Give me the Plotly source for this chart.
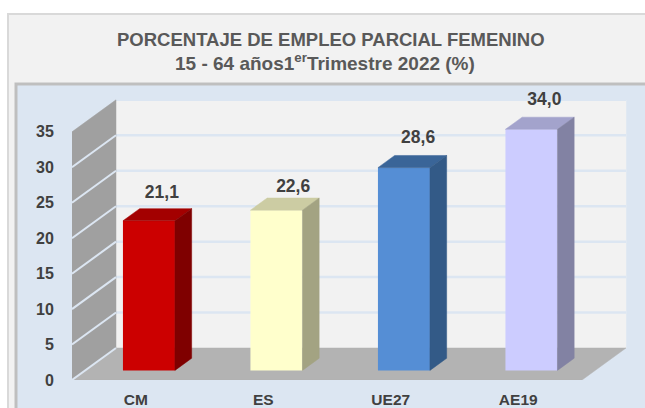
import plotly.graph_objects as go

categories = ["CM", "ES", "UE27", "AE19"]
values = [21.1, 22.6, 28.6, 34.0]
labels = ["21,1", "22,6", "28,6", "34,0"]
front_colors = ["#cc0000", "#ffffcc", "#558ed5", "#ccccff"]
top_colors = ["#a30000", "#cccca3", "#3a6598", "#a3a3cc"]
side_colors = ["#7f0000", "#a3a382", "#335a87", "#8282a3"]
y_ticks = [0, 5, 10, 15, 20, 25, 30, 35]

W, H = 645, 408
PX_L, PX_R, PX_T, PX_B = 72, 627, 88, 380
CAT_W = 127.5
VAL_H = 7.09
DEPTH_X = 44 / CAT_W
DEPTH_Y = 32 / VAL_H
X0, X1 = -0.5, -0.5 + (PX_R - PX_L) / CAT_W
Y_TOP = (PX_B - PX_T) / VAL_H
X_MAX_FRONT = 3.5
BAR_W = 52 / CAT_W
D_A, D_B = 0.30, 0.68


def pr(x, v, d=0.0):
    return x + DEPTH_X * d, v + DEPTH_Y * d


def path(points):
    return "M" + "L".join(f"{p[0]},{p[1]}" for p in points) + "Z"


def poly_shape(points, color):
    return dict(type="path", xref="x", yref="y", layer="below", path=path(points),
                fillcolor=color, line=dict(color=color, width=0.5))


def seg_shape(a, b, color, width):
    return dict(type="line", xref="x", yref="y", layer="below", x0=a[0], y0=a[1], x1=b[0], y1=b[1],
                line=dict(color=color, width=width))


def poly(points, color):
    xs = [p[0] for p in points] + [points[0][0]]
    ys = [p[1] for p in points] + [points[0][1]]
    return go.Scatter(x=xs, y=ys, mode="lines", fill="toself", fillcolor=color,
                      line=dict(color=color, width=0.5), hoverinfo="skip", showlegend=False)


px_w = PX_R - PX_L
px_h = PX_B - PX_T
shapes = [
    dict(type="rect", xref="paper", yref="paper", layer="below",
         x0=(8 - PX_L) / px_w, x1=(W + 5 - PX_L) / px_w,
         y0=(PX_B - H - 5) / px_h, y1=(PX_B - 14) / px_h,
         fillcolor="#f2f2f2", line=dict(color="#d9d9d9", width=2)),
    dict(type="rect", xref="paper", yref="paper", layer="below",
         x0=(16 - PX_L) / px_w, x1=(W + 5 - PX_L) / px_w,
         y0=(PX_B - H - 5) / px_h, y1=(PX_B - 84) / px_h,
         fillcolor="#dce6f2", line=dict(color="#bfbfbf", width=3)),
    poly_shape([pr(X0, 0, 1), pr(X_MAX_FRONT, 0, 1), pr(X_MAX_FRONT, 35, 1), pr(X0, 35, 1)], "#f2f2f2"),
]
for t in y_ticks[1:]:
    shapes.append(seg_shape(pr(X0, t, 1), pr(X_MAX_FRONT, t, 1), "#dce6f2", 2.5))
shapes.append(poly_shape([pr(X0, 0, 0), pr(X_MAX_FRONT, 0, 0), pr(X_MAX_FRONT, 0, 1), pr(X0, 0, 1)], "#b3b3b3"))
shapes.append(poly_shape([pr(X0, 0, 0), pr(X0, 0, 1), pr(X0, 35, 1), pr(X0, 35, 0)], "#a0a0a0"))
for t in y_ticks[:-1]:
    shapes.append(seg_shape(pr(X0, t, 0), pr(X0, t, 1), "#dce6f2", 2))

fig = go.Figure()

label_dx = [-0.03, 0.0, -0.02, -0.03]
label_dy = [2.1, 1.5, 2.4, 2.3]

for i, v in enumerate(values):
    xl, xr = i - BAR_W / 2, i + BAR_W / 2
    fig.add_trace(go.Bar(x=[pr(i, 0, D_A)[0]], y=[v], base=[pr(i, 0, D_A)[1]], width=[BAR_W],
                         marker=dict(color=front_colors[i], line=dict(width=0)),
                         hoverinfo="skip", showlegend=False))
    fig.add_trace(poly([pr(xl, v, D_A), pr(xr, v, D_A), pr(xr, v, D_B), pr(xl, v, D_B)], top_colors[i]))
    fig.add_trace(poly([pr(xr, 0, D_A), pr(xr, 0, D_B), pr(xr, v, D_B), pr(xr, v, D_A)], side_colors[i]))
    lx, ly = pr(i, v, D_B)
    fig.add_trace(go.Scatter(x=[lx + label_dx[i]], y=[ly + label_dy[i]], mode="text", text=[labels[i]],
                             textposition="middle center",
                             textfont=dict(family="Liberation Sans", size=17.5, color="#404040", weight="bold"),
                             hoverinfo="skip", showlegend=False, cliponaxis=False))

fig.update_layout(
    width=W, height=H, barmode="overlay", showlegend=False,
    margin=dict(l=PX_L, r=W - PX_R, t=PX_T, b=H - PX_B, pad=0, autoexpand=False),
    paper_bgcolor="#ffffff", plot_bgcolor="rgba(0,0,0,0)",
    shapes=shapes,
    annotations=[
        dict(xref="paper", yref="paper", x=(331 - PX_L) / px_w, y=(PX_B - 39) / px_h,
             text="PORCENTAJE DE EMPLEO PARCIAL FEMENINO", showarrow=False, xanchor="center", yanchor="middle",
             font=dict(family="Liberation Sans", size=18.5, color="#595959", weight="bold")),
        dict(xref="paper", yref="paper", x=(325 - PX_L) / px_w, y=(PX_B - 62) / px_h,
             text="15 - 64 años1<sup>er</sup>Trimestre 2022 (%)", showarrow=False, xanchor="center", yanchor="middle",
             font=dict(family="Liberation Sans", size=19, color="#595959", weight="bold")),
    ],
    xaxis=dict(range=[X0, X1], tickmode="array", tickvals=list(range(len(categories))), ticktext=categories,
               automargin=False, showgrid=False, zeroline=False, showline=False, ticks="outside", ticklen=5,
               tickcolor="rgba(0,0,0,0)",
               tickfont=dict(family="Liberation Sans", size=15.5, color="#404040", weight="bold")),
    yaxis=dict(range=[0, Y_TOP], tickmode="array", tickvals=y_ticks, ticktext=[str(t) for t in y_ticks],
               automargin=False, showgrid=False, zeroline=False, showline=False, ticks="outside", ticklen=14,
               tickcolor="rgba(0,0,0,0)",
               tickfont=dict(family="Liberation Sans", size=16, color="#404040", weight="bold")),
)

fig.write_html("out.html", config={"displayModeBar": False},
               post_script="document.body.style.margin='0';document.body.style.overflow='hidden';")
